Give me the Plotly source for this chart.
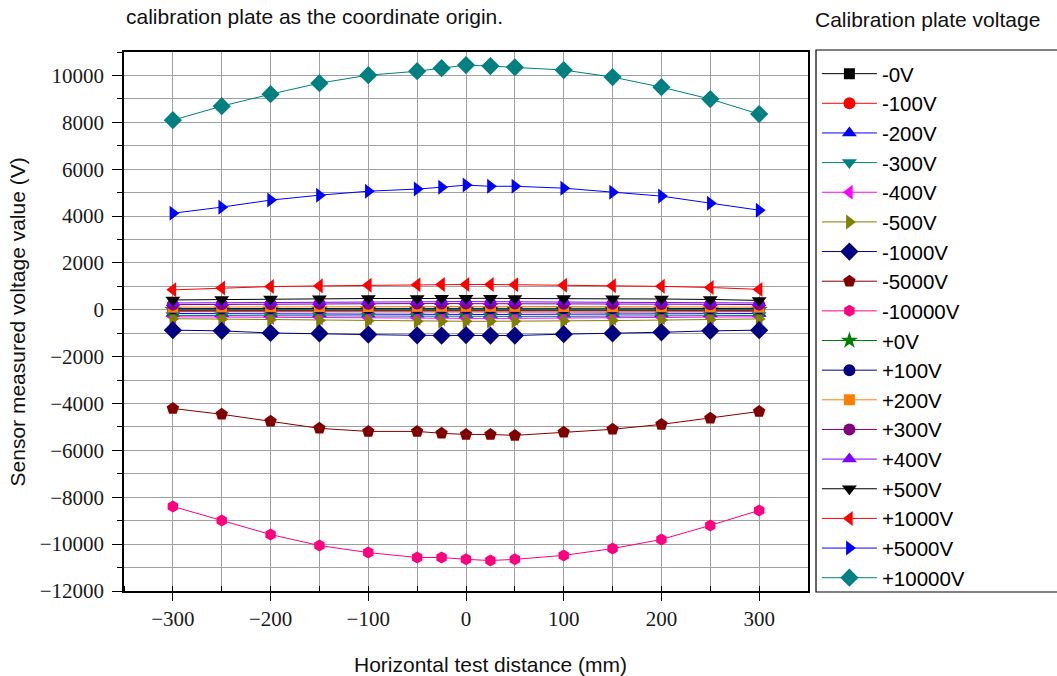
import plotly.graph_objects as go

# ---------------- data ----------------
x_mm = [-300, -250, -200, -150, -100, -50, -25, 0, 25, 50, 100, 150, 200, 250, 300]

series_names = ["-0V", "-100V", "-200V", "-300V", "-400V", "-500V", "-1000V", "-5000V", "-10000V",
                "+0V", "+100V", "+200V", "+300V", "+400V", "+500V", "+1000V", "+5000V", "+10000V"]

v_minus_0 = [-20, -20, -25, -25, -30, -30, -30, -30, -30, -30, -30, -25, -25, -20, -20]
v_minus_100 = [-80, -85, -90, -95, -100, -100, -105, -105, -105, -100, -100, -95, -90, -85, -80]
v_minus_200 = [-160, -170, -180, -185, -190, -195, -200, -200, -200, -195, -190, -185, -180, -170, -160]
v_minus_300 = [-240, -250, -260, -270, -280, -285, -290, -290, -290, -285, -280, -270, -260, -250, -240]
v_minus_400 = [-300, -315, -330, -345, -355, -365, -370, -370, -370, -365, -355, -345, -330, -315, -300]
v_minus_500 = [-380, -400, -430, -460, -470, -490, -490, -490, -490, -490, -480, -460, -440, -420, -390]
v_minus_1000 = [-870, -900, -990, -1010, -1060, -1090, -1100, -1080, -1100, -1100, -1040, -1010, -960, -900, -870]
v_minus_5000 = [-4210, -4460, -4760, -5060, -5190, -5190, -5270, -5320, -5320, -5360, -5230, -5100, -4890, -4630, -4340]
v_minus_10000 = [-8390, -8990, -9590, -10060, -10360, -10570, -10570, -10650, -10700, -10650, -10480, -10190, -9800, -9200, -8560]
v_plus_0 = [0, 5, 5, 10, 10, 10, 10, 10, 10, 10, 10, 10, 5, 5, 0]
v_plus_100 = [50, 55, 60, 65, 70, 70, 70, 70, 70, 70, 70, 65, 60, 55, 50]
v_plus_200 = [110, 120, 130, 135, 140, 145, 145, 145, 145, 145, 140, 135, 130, 120, 110]
v_plus_300 = [220, 235, 245, 255, 260, 265, 265, 265, 265, 265, 260, 255, 245, 235, 220]
v_plus_400 = [290, 305, 320, 330, 340, 345, 345, 350, 345, 345, 340, 330, 320, 305, 290]
v_plus_500 = [420, 440, 460, 470, 480, 480, 490, 490, 490, 480, 480, 470, 460, 440, 400]
v_plus_1000 = [850, 930, 990, 1020, 1050, 1070, 1080, 1080, 1080, 1070, 1050, 1030, 1000, 950, 870]
v_plus_5000 = [4120, 4380, 4680, 4890, 5060, 5150, 5230, 5320, 5270, 5270, 5190, 5020, 4850, 4550, 4250]
v_plus_10000 = [8090, 8690, 9200, 9670, 10010, 10180, 10310, 10440, 10400, 10350, 10230, 9930, 9500, 8990, 8350]

series_values = [v_minus_0, v_minus_100, v_minus_200, v_minus_300, v_minus_400, v_minus_500,
                 v_minus_1000, v_minus_5000, v_minus_10000, v_plus_0, v_plus_100, v_plus_200,
                 v_plus_300, v_plus_400, v_plus_500, v_plus_1000, v_plus_5000, v_plus_10000]

y_tick_vals = [-12000, -10000, -8000, -6000, -4000, -2000, 0, 2000, 4000, 6000, 8000, 10000]
x_tick_vals = [-300, -200, -100, 0, 100, 200, 300]

# ---------------- styles ----------------
colors = ["#000000", "#ff0000", "#0000ff", "#008080", "#ff00ff", "#808000", "#000080", "#800000", "#ff0080",
          "#008000", "#000080", "#ff8000", "#800080", "#8000ff", "#000000", "#ff0000", "#0000ff", "#008080"]
symbols = ["square", "circle", "triangle-up", "triangle-down", "triangle-left", "triangle-right", "diamond",
           "pentagon", "hexagon", "star", "circle", "square", "circle", "triangle-up", "triangle-down",
           "triangle-left", "triangle-right", "diamond"]
sizes = [11, 12, 13, 13, 13, 13, 14, 13, 12, 13, 12, 11, 12, 13, 13, 13, 13, 14]

fig = go.Figure()
for name, vals, c, s, sz in zip(series_names, series_values, colors, symbols, sizes):
    fig.add_trace(go.Scatter(
        x=x_mm, y=vals, name=name, mode="lines+markers",
        line=dict(color=c, width=1),
        marker=dict(color=c, symbol=s, size=sz, line=dict(width=0)),
    ))

grid_col = "#a0a0a0"
tick_font = dict(family="Liberation Serif", size=21, color="#1a1a1a")
label_font = dict(family="Liberation Sans", size=21, color="#111111")
legend_font = dict(family="Liberation Sans", size=20.5, color="#000000")

fig.update_layout(
    width=1057, height=676,
    margin=dict(l=124, r=249, t=52, b=85),
    paper_bgcolor="white", plot_bgcolor="white",
    showlegend=True,
    legend=dict(
        x=1.013, xanchor="left", y=0.9966, yanchor="top",
        borderwidth=0, font=legend_font,
        itemwidth=55, bgcolor="rgba(0,0,0,0)", maxheight=700,
    ),
    xaxis=dict(
        range=[-350, 350], tickvals=x_tick_vals, ticks="outside", ticklen=8, tickwidth=1.2,
        tickcolor="black", showline=True, linecolor="black", linewidth=1.5, mirror=True,
        showgrid=True, gridcolor=grid_col, gridwidth=1.2, zeroline=False,
        tickfont=tick_font, tickformat="d",
        minor=dict(dtick=50, tick0=0, ticks="inside", ticklen=5, tickcolor="black",
                   showgrid=True, gridcolor=grid_col, gridwidth=1.2),
    ),
    yaxis=dict(
        range=[-12000, 11000], tickvals=y_tick_vals, ticks="outside", ticklen=10, tickwidth=1.2,
        tickcolor="black", showline=True, linecolor="black", linewidth=1.5, mirror=True,
        showgrid=True, gridcolor=grid_col, gridwidth=1.2, zeroline=False,
        tickfont=tick_font, ticklabelstandoff=4, tickformat="d",
        minor=dict(dtick=1000, tick0=0, ticks="outside", ticklen=5, tickcolor="black",
                   showgrid=True, gridcolor=grid_col, gridwidth=1.2),
    ),
)

# legend frame (extends past the right edge, as in the reference)
fig.add_shape(type="rect", xref="paper", yref="paper",
              x0=(816 - 124) / 684, x1=(1070 - 124) / 684,
              y0=(591 - 592) / 539, y1=(591 - 50) / 539,
              line=dict(color="black", width=1.2), fillcolor="rgba(0,0,0,0)", layer="below")

fig.add_annotation(text="calibration plate as the coordinate origin.", xref="paper", yref="paper",
                   x=0.0, y=1.065, xanchor="left", yanchor="middle", showarrow=False, font=label_font)
fig.add_annotation(text="Calibration plate voltage", xref="paper", yref="paper",
                   x=1.0073, y=1.0594, xanchor="left", yanchor="middle", showarrow=False, font=label_font)
fig.add_annotation(text="Horizontal test distance (mm)", xref="paper", yref="paper",
                   x=0.5365, y=-0.137, xanchor="center", yanchor="middle", showarrow=False, font=label_font)
fig.add_annotation(text="Sensor measured voltage value (V)", xref="paper", yref="paper",
                   x=-0.155, y=0.5, xanchor="center", yanchor="middle", textangle=-90,
                   showarrow=False, font=label_font)

fig.write_html("out.html", config={"displayModeBar": False},
               post_script="document.body.style.margin='0';document.body.style.overflow='hidden';")
